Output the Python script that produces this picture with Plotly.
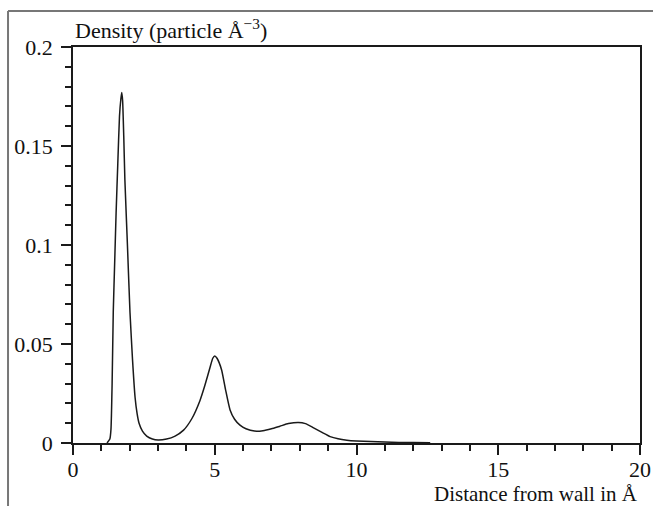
import plotly.graph_objects as go

# Density profile: distance from wall (Å) vs density (particle Å^-3)
distance = [1.20, 1.30, 1.34, 1.38, 1.42, 1.47, 1.52, 1.58, 1.64, 1.69, 1.72, 1.75,
            1.79, 1.83, 1.92, 2.01, 2.10, 2.19, 2.26, 2.33, 2.45, 2.60, 2.80, 3.00,
            3.30, 3.60, 3.90, 4.20, 4.48, 4.65, 4.83, 4.93, 5.00, 5.08, 5.24, 5.38,
            5.54, 5.70, 5.89, 6.10, 6.40, 6.70, 7.00, 7.30, 7.60, 7.95, 8.20, 8.47,
            8.80, 9.07, 9.35, 9.66, 10.0, 10.5, 11.0, 11.5, 12.0, 12.6]
density = [0.0, 0.002, 0.007, 0.030, 0.066, 0.091, 0.116, 0.141, 0.165, 0.174, 0.177, 0.173,
           0.155, 0.133, 0.100, 0.066, 0.042, 0.023, 0.015, 0.010, 0.006, 0.0035, 0.002, 0.0015,
           0.0020, 0.0035, 0.0065, 0.0125, 0.0215, 0.029, 0.038, 0.0428, 0.0440, 0.0428, 0.037, 0.027,
           0.0167, 0.0120, 0.0090, 0.0072, 0.0060, 0.0062, 0.0072, 0.0085, 0.0098, 0.0104, 0.0098, 0.0078,
           0.0052, 0.0032, 0.0021, 0.0014, 0.0010, 0.0007, 0.0005, 0.0003, 0.0002, 0.0001]

x_ticks = [0, 5, 10, 15, 20]
x_labels = ["0", "5", "10", "15", "20"]
y_ticks = [0, 0.05, 0.1, 0.15, 0.2]
y_labels = ["0", "0.05", "0.1", "0.15", "0.2"]

FONT = "Liberation Serif"
AX = "#1a1a1a"

fig = go.Figure()
fig.add_trace(go.Scatter(x=distance, y=density, mode="lines",
                         line=dict(color="#1a1a1a", width=1.5, shape="spline", smoothing=0.5),
                         showlegend=False, hoverinfo="skip"))

axis_common = dict(showgrid=False, zeroline=False, showline=True, linecolor=AX, linewidth=1.5,
                   mirror=True, ticks="outside", ticklen=10, tickwidth=1.5, tickcolor=AX,
                   automargin=False,
                   tickfont=dict(family=FONT, size=22, color="#111"))

fig.update_xaxes(range=[0, 20], tickvals=x_ticks, ticktext=x_labels, ticklabelstandoff=-4,
                 minor=dict(dtick=1, tick0=0, ticks="outside", ticklen=6, tickwidth=1.5, tickcolor=AX),
                 **axis_common)
fig.update_yaxes(range=[0, 0.2], tickvals=y_ticks, ticktext=y_labels, ticklabelstandoff=4,
                 minor=dict(dtick=0.01, tick0=0, ticks="outside", ticklen=6, tickwidth=1.5, tickcolor=AX),
                 **axis_common)

fig.add_annotation(text="Density (particle Å<sup>−3</sup>)", xref="paper", yref="paper",
                   x=0.0, y=1.045, xanchor="left", yanchor="middle", showarrow=False,
                   font=dict(family=FONT, size=22, color="#111"))
fig.add_annotation(text="Distance from wall in Å", xref="paper", yref="paper",
                   x=1.0, y=-0.128, xanchor="right", yanchor="middle", showarrow=False,
                   font=dict(family=FONT, size=21, color="#111"))

# outer frame (top and left gray lines)
fig.add_shape(type="line", xref="paper", yref="paper", x0=-0.1146, x1=1.1, y0=1.0909, y1=1.0909,
              line=dict(color="#777", width=2))
fig.add_shape(type="line", xref="paper", yref="paper", x0=-0.1146, x1=-0.1146, y0=1.0909, y1=-0.2,
              line=dict(color="#777", width=2))

fig.update_layout(width=653, height=506, margin=dict(l=73, r=13, t=47, b=63),
                  plot_bgcolor="white", paper_bgcolor="white")

fig.write_html("out.html", config={"displayModeBar": False},
               post_script="document.body.style.margin='0';document.body.style.overflow='hidden';")
